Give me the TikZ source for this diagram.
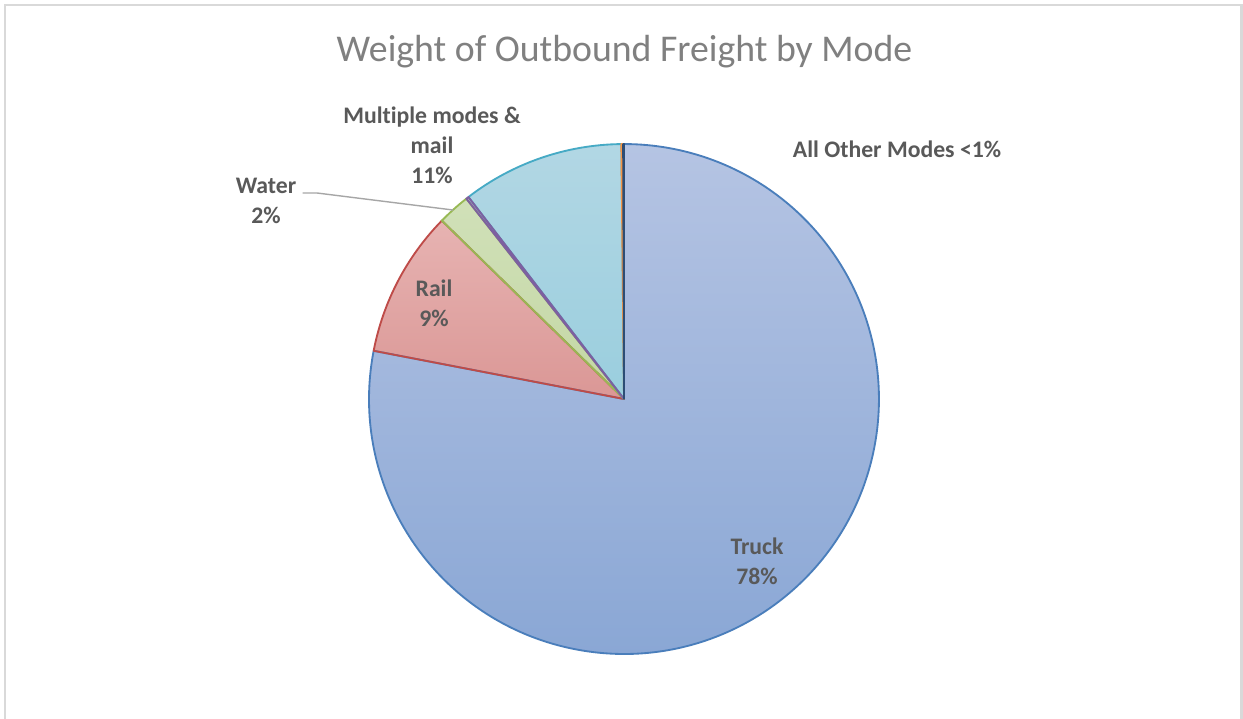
\documentclass[tikz,border=0pt]{standalone}
\usepackage{fontspec}
\setmainfont{Carlito}[Ligatures=NoCommon]
\usetikzlibrary{calc}
\definecolor{frameC}{HTML}{D9D9D9}
\definecolor{txtC}{HTML}{595959}
\definecolor{titleC}{HTML}{808080}
\definecolor{leadC}{HTML}{A6A6A6}
\definecolor{truckT}{HTML}{B5C4E3}
\definecolor{truckB}{HTML}{8AA7D5}
\definecolor{truckL}{HTML}{4A7EBB}
\definecolor{railT}{HTML}{ECBFBE}
\definecolor{railB}{HTML}{C96F6D}
\definecolor{railL}{HTML}{BE4B48}
\definecolor{waterT}{HTML}{D4E3BE}
\definecolor{waterB}{HTML}{B3CB8A}
\definecolor{waterL}{HTML}{98B954}
\definecolor{purpT}{HTML}{C1B3D6}
\definecolor{purpB}{HTML}{9A84BD}
\definecolor{purpL}{HTML}{7D60A0}
\definecolor{aquaT}{HTML}{B2D7E4}
\definecolor{aquaB}{HTML}{82C5D8}
\definecolor{aquaL}{HTML}{46AAC5}
\definecolor{orT}{HTML}{F9C39B}
\definecolor{orB}{HTML}{F59E58}
\definecolor{orL}{HTML}{F79646}
\definecolor{navyT}{HTML}{6A88B5}
\definecolor{navyB}{HTML}{2C4D75}
\definecolor{navyL}{HTML}{2C4D75}
\tikzset{
  lbl/.style={text=txtC, font=\fontsize{13.5}{17.2}\selectfont\bfseries, align=center, inner sep=0pt},
  ttl/.style={text=titleC, font=\fontsize{21.5}{26}\selectfont, inner sep=0pt},
  sliceline/.style={line width=1.05pt, line join=round},
  leader/.style={draw=leadC, line width=0.8pt}
}
\newcommand{\pieslice}[5]{% start, end, top, bottom, line
  \begin{scope}
    \clip (pc) -- ++(#1:5.1cm) arc[start angle=#1, end angle=#2, radius=5.1cm] -- cycle;
    \shade[top color=#3, bottom color=#4] (369,-144) rectangle (879,-654);
  \end{scope}
}
\newcommand{\pieedge}[3]{%
  \draw[sliceline, draw=#3] (pc) -- ++(#1:5.1cm) arc[start angle=#1, end angle=#2, radius=5.1cm] -- cycle;
}
\begin{document}
\begin{tikzpicture}[x=0.02cm, y=0.02cm]
\useasboundingbox (0,0) rectangle (1243,-719);
\fill[white] (0,0) rectangle (1243,-719);
\draw[frameC, line width=1.3pt] (5.3,-722) -- (5.3,-5.3) -- (1241.6,-5.3) -- (1241.6,-722);
\coordinate (pc) at (624,-399);
% fills
\pieslice{169.1}{450}{truckT}{truckB}{truckL}
\pieslice{135.6}{169.1}{railT}{railB}{railL}
\pieslice{128.2}{135.6}{waterT}{waterB}{waterL}
\pieslice{127.6}{128.2}{purpT}{purpB}{purpL}
\pieslice{90.6}{127.6}{aquaT}{aquaB}{aquaL}
\pieslice{90.2}{90.6}{orT}{orB}{orL}
\pieslice{90}{90.2}{navyT}{navyB}{navyL}
% edges
\pieedge{169.1}{450}{truckL}
\pieedge{135.6}{169.1}{railL}
\pieedge{128.2}{135.6}{waterL}
\pieedge{90.6}{127.6}{aquaL}
\pieedge{127.6}{128.2}{purpL}
\pieedge{90.2}{90.6}{orL}
\pieedge{90}{90.2}{navyL}
% title
\node[ttl] (title) at (624.5,-52) {Weight of Outbound Freight by Mode};
% labels
\node[lbl] (other) at (897,-149) {All Other Modes <1\%};
\node[lbl] (multi) at (432,-145) {Mult\kern0pt iple modes \&\\mail\\11\%};
\node[lbl] (water) at (266,-201) {Water\\2\%};
\node[lbl] (rail) at (434,-303) {Rail\\9\%};
\node[lbl] (truck) at (757,-561) {Truck\\78\%};
% water leader
\coordinate (wbend) at (317,-193);
\coordinate (wend) at (453,-210);
\draw[leader] ([xshift=3.5pt]water.east |- wbend) -- (wbend) -- (wend);
\end{tikzpicture}
\end{document}
